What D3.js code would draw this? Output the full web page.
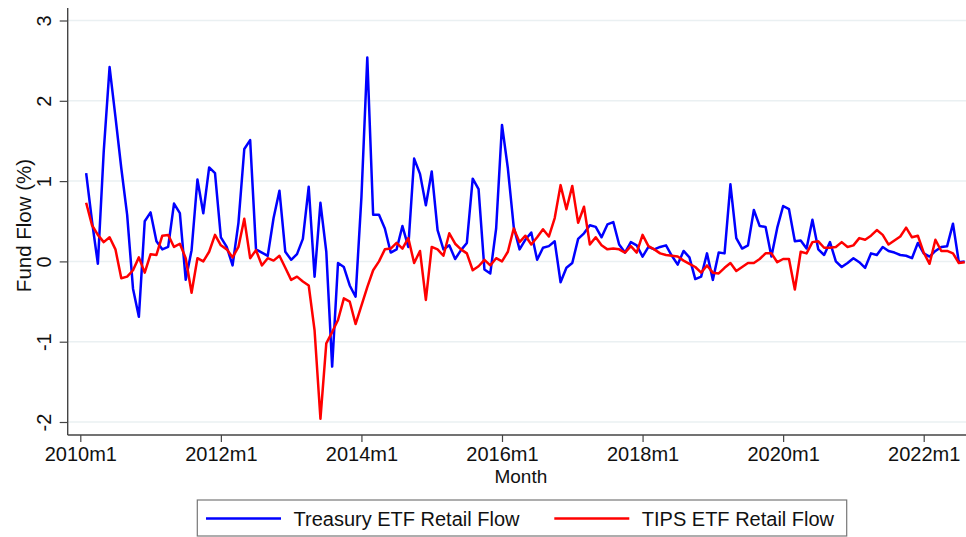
<!DOCTYPE html>
<html>
<head>
<meta charset="utf-8">
<script src="https://cdn.jsdelivr.net/npm/d3@7"></script>
<style>
  body { margin: 0; background: #fff; }
  svg { display: block; font-family: "Liberation Sans", Arial, sans-serif; }
</style>
</head>
<body>
<svg id="chart" width="966" height="537"></svg>
<script>
// month index 0 = 2010m1, first observation is 2010m2
var startMonth = 1;
var treasury = [1.10, 0.50, -0.03, 1.37, 2.42, 1.80, 1.16, 0.58, -0.34, -0.69, 0.50, 0.61,
  0.25, 0.15, 0.18, 0.72, 0.60, -0.23, 0.14, 1.02, 0.60, 1.17, 1.10, 0.30,
  0.18, -0.05, 0.48, 1.40, 1.51, 0.15, 0.11, 0.07, 0.54, 0.88, 0.12, 0.02,
  0.09, 0.28, 0.93, -0.19, 0.73, 0.12, -1.31, -0.02, -0.07, -0.30, -0.44, 0.80,
  2.54, 0.58, 0.58, 0.41, 0.11, 0.15, 0.44, 0.18, 1.28, 1.09, 0.70, 1.12,
  0.39, 0.15, 0.20, 0.03, 0.14, 0.23, 1.03, 0.90, -0.10, -0.15, 0.41, 1.70,
  1.16, 0.43, 0.15, 0.27, 0.36, 0.02, 0.17, 0.19, 0.25, -0.26, -0.08, -0.02,
  0.28, 0.35, 0.45, 0.43, 0.30, 0.46, 0.49, 0.21, 0.11, 0.24, 0.20, 0.06,
  0.18, 0.15, 0.18, 0.20, 0.07, -0.04, 0.13, 0.05, -0.22, -0.19, 0.10, -0.23,
  0.11, 0.10, 0.96, 0.29, 0.16, 0.20, 0.64, 0.44, 0.43, 0.06, 0.42, 0.69,
  0.65, 0.25, 0.26, 0.16, 0.52, 0.15, 0.08, 0.24, 0.00, -0.07, -0.02, 0.04,
  -0.01, -0.08, 0.10, 0.08, 0.18, 0.13, 0.11, 0.08, 0.07, 0.04, 0.23, 0.10,
  0.06, 0.13, 0.18, 0.19, 0.47, -0.01, 0.00];
var tips = [0.73, 0.45, 0.33, 0.24, 0.30, 0.15, -0.21, -0.19, -0.11, 0.05, -0.14, 0.09,
  0.08, 0.32, 0.33, 0.18, 0.22, 0.04, -0.39, 0.04, 0.00, 0.12, 0.33, 0.20,
  0.15, 0.05, 0.18, 0.53, 0.04, 0.14, -0.05, 0.04, 0.01, 0.07, -0.08, -0.23,
  -0.19, -0.25, -0.30, -0.86, -1.96, -1.02, -0.88, -0.73, -0.46, -0.50, -0.78, -0.55,
  -0.32, -0.11, 0.00, 0.15, 0.16, 0.23, 0.16, 0.29, -0.02, 0.13, -0.48, 0.18,
  0.15, 0.07, 0.35, 0.22, 0.15, 0.10, -0.11, -0.06, 0.02, -0.05, 0.04, 0.00,
  0.12, 0.41, 0.24, 0.32, 0.21, 0.30, 0.40, 0.31, 0.54, 0.95, 0.65, 0.94,
  0.48, 0.68, 0.21, 0.30, 0.20, 0.15, 0.16, 0.15, 0.11, 0.19, 0.11, 0.33,
  0.19, 0.15, 0.10, 0.08, 0.07, 0.06, 0.01, -0.03, -0.07, -0.14, -0.05, -0.14,
  -0.15, -0.08, -0.02, -0.12, -0.07, -0.02, -0.02, 0.03, 0.10, 0.10, -0.01, 0.03,
  0.03, -0.35, 0.12, 0.10, 0.24, 0.25, 0.17, 0.17, 0.18, 0.24, 0.18, 0.20,
  0.29, 0.27, 0.32, 0.39, 0.33, 0.21, 0.26, 0.31, 0.42, 0.30, 0.32, 0.11,
  -0.03, 0.27, 0.13, 0.13, 0.10, -0.02, -0.01];

var xTickMonths = [0, 24, 48, 72, 96, 120, 144];
var xTickLabels = ['2010m1', '2012m1', '2014m1', '2016m1', '2018m1', '2020m1', '2022m1'];
var yTicks = [-2, -1, 0, 1, 2, 3];
var seriesNames = ['Treasury ETF Retail Flow', 'TIPS ETF Retail Flow'];
var seriesColors = ['#0000ff', '#ff0000'];

var svg = d3.select('#chart');

var plotLeft = 67.7, plotRight = 966, plotTop = 8, plotBottom = 435;

var xScale = d3.scaleLinear().domain([0, 144]).range([80.3, 923.7]);
var yScale = d3.scaleLinear().domain([-2, 3]).range([422, 20.5]);

//Gridlines
svg.append('g').selectAll('line').data(yTicks).enter().append('line')
  .attr('x1', plotLeft).attr('x2', plotRight)
  .attr('y1', function(d){ return yScale(d); })
  .attr('y2', function(d){ return yScale(d); })
  .attr('stroke', '#eaf0f2')
  .attr('stroke-width', 1.5);

//Lines
var line = d3.line()
  .x(function(d){ return xScale(d.m); })
  .y(function(d){ return yScale(d.v); });

var allSeries = [treasury, tips].map(function(vals){
  return vals.map(function(v, i){ return {m: startMonth + i, v: v}; });
});

svg.append('g').selectAll('path').data(allSeries).enter().append('path')
  .attr('d', line)
  .attr('fill', 'none')
  .attr('stroke', function(d, i){ return seriesColors[i]; })
  .attr('stroke-width', 2.5)
  .attr('stroke-linejoin', 'round');

//Y axis
var yAxis = svg.append('g').attr('transform', 'translate(' + plotLeft + ',0)')
  .call(d3.axisLeft(yScale).tickValues(yTicks).tickSize(8).tickFormat(d3.format('d')));
yAxis.select('.domain').attr('d', 'M0,' + plotTop + 'V' + plotBottom).attr('stroke', '#444').attr('stroke-width', 1.4);
yAxis.selectAll('.tick line').attr('stroke', '#444').attr('stroke-width', 1.2);
yAxis.selectAll('.tick text')
  .attr('x', null).attr('dy', null)
  .attr('transform', 'translate(-17,0) rotate(-90)')
  .attr('text-anchor', 'middle')
  .attr('font-size', 20)
  .attr('font-family', '"Liberation Sans", Arial, sans-serif')
  .attr('fill', '#111')
  .text(function(d){ return d; });

//X axis
var xAxis = svg.append('g').attr('transform', 'translate(0,' + plotBottom + ')')
  .call(d3.axisBottom(xScale).tickValues(xTickMonths).tickSize(7)
    .tickFormat(function(d, i){ return xTickLabels[i]; }));
xAxis.select('.domain').attr('d', 'M' + plotLeft + ',0H' + plotRight).attr('stroke', '#444').attr('stroke-width', 1.4);
xAxis.selectAll('.tick line').attr('stroke', '#444').attr('stroke-width', 1.2);
xAxis.selectAll('.tick text')
  .attr('y', 26).attr('dy', null)
  .attr('font-size', 20)
  .attr('font-family', '"Liberation Sans", Arial, sans-serif')
  .attr('fill', '#111');

//Axis titles
svg.append('text')
  .attr('transform', 'translate(31,' + ((plotTop + plotBottom) / 2 + 4) + ') rotate(-90)')
  .attr('text-anchor', 'middle')
  .attr('font-size', 20.5)
  .attr('fill', '#111')
  .text('Fund Flow (%)');

svg.append('text')
  .attr('x', (plotLeft + plotRight) / 2 + 4)
  .attr('y', 483)
  .attr('text-anchor', 'middle')
  .attr('font-size', 19)
  .attr('fill', '#111')
  .text('Month');

//Legend
var legend = svg.append('g');
legend.append('rect')
  .attr('x', 197.3).attr('y', 500)
  .attr('width', 649.4).attr('height', 36)
  .attr('fill', '#fff')
  .attr('stroke', '#777')
  .attr('stroke-width', 1.2);

var legendX = [206, 554.3];
var items = legend.selectAll('g.item').data(seriesNames).enter().append('g')
  .attr('class', 'item')
  .attr('transform', function(d, i){ return 'translate(' + legendX[i] + ',518.5)'; });
items.append('line')
  .attr('x1', 0).attr('x2', 75)
  .attr('stroke', function(d, i){ return seriesColors[i]; })
  .attr('stroke-width', 2.6);
items.append('text')
  .attr('x', 87.5).attr('y', 7.5)
  .attr('font-size', 20)
  .attr('fill', '#111')
  .text(function(d){ return d; });
</script>
</body>
</html>
